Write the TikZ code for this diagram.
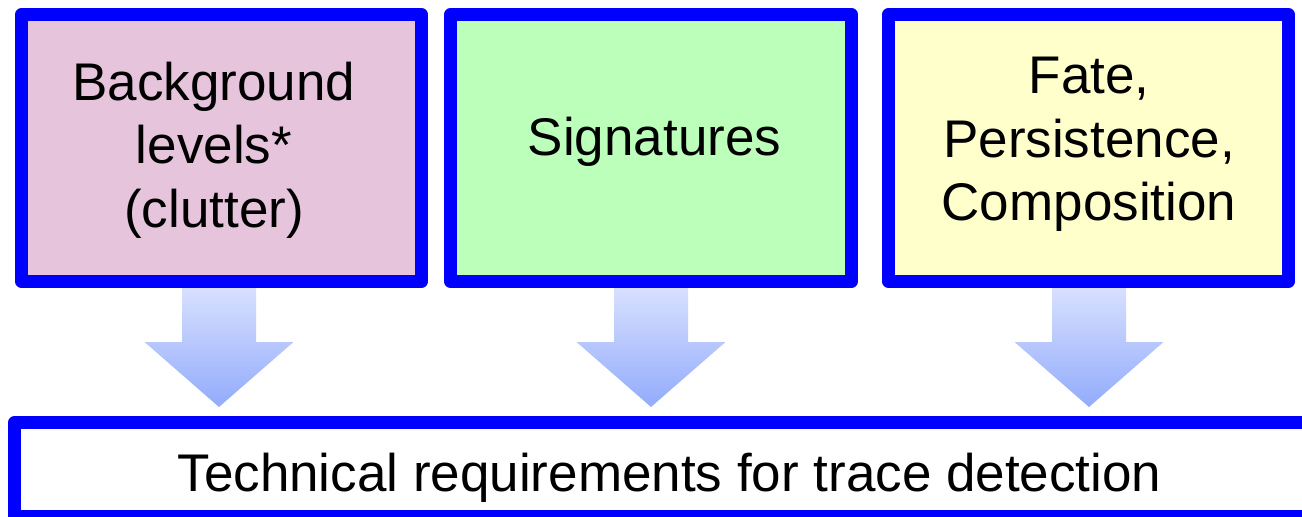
\documentclass[tikz,border=0pt]{standalone}
\usepackage{fontspec}
\setmainfont{Liberation Sans}
\definecolor{boxblue}{RGB}{0,0,255}
\definecolor{pinkfill}{RGB}{230,196,220}
\definecolor{greenfill}{RGB}{187,255,187}
\definecolor{yellowfill}{RGB}{255,255,204}
\definecolor{arrtop}{RGB}{220,227,254}
\definecolor{arrbot}{RGB}{146,171,252}
\begin{document}
\begin{tikzpicture}[x=1pt,y=-1pt,
  box/.style={draw=boxblue, line width=13pt, line join=round, minimum width=400pt, minimum height=267pt, inner sep=0pt},
  txt/.style={font=\fontsize{53}{63.5}\selectfont, align=center, inner sep=0pt, text=black},
  blockarrow/.style={top color=arrtop, bottom color=arrbot, draw=none}]
\useasboundingbox (0,0) rectangle (1302,517);
\clip (0,0) rectangle (1302,517);
% boxes positions (centres)
\coordinate (c1) at (221.5,148);
\coordinate (c2) at (651,148);
\coordinate (c3) at (1088.5,148);
% block arrows (drawn first, box covers the top)
\foreach \cx in {219,651,1089}{
  \shade[blockarrow] (\cx-37,281) -- (\cx+37,281) -- (\cx+37,342) -- (\cx+74.5,342) -- (\cx,407) -- (\cx-74.5,342) -- (\cx-37,342) -- cycle;
}
\node[box, fill=pinkfill] (b1) at (c1) {};
\node[box, fill=greenfill, minimum width=401pt] (b2) at (c2) {};
\node[box, fill=yellowfill] (b3) at (c3) {};
\draw[draw=boxblue, line width=13pt, line join=round, fill=white] (14.5,422.5) rectangle (1330,516.5);
\coordinate (bottomcentre) at (669.5,477.3);
\node[txt] (t1) at (214,150) {Background\\levels*\\(clutter)};
\node[txt] (t2) at (654.5,142) {Signatures};
\node[txt] (t3) at (1089,144.3) {Fate,\\Persistence,\\Composition};
\node[txt] (t4) at (bottomcentre) {Technical requirements for trace detection};
\end{tikzpicture}
\end{document}
